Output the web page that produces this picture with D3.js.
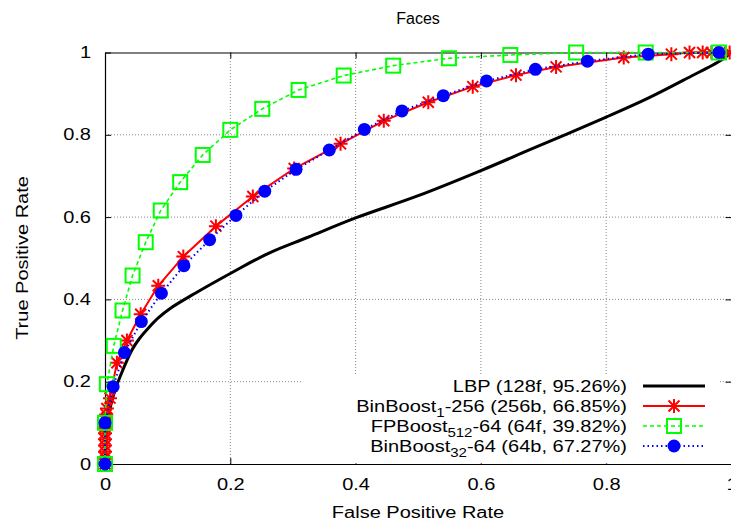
<!DOCTYPE html>
<html>
<head>
<meta charset="utf-8">
<script src="https://cdn.jsdelivr.net/npm/d3@7"></script>
<style>
  body { margin: 0; background: #fff; }
  text { font-family: "Liberation Sans", Arial, sans-serif; fill: #000; }
</style>
</head>
<body>
<div id="chart"></div>
<script>
// values (false positive rate, true positive rate)
const lbpFpr = [0, 0.002, 0.005, 0.008, 0.015, 0.024, 0.043, 0.055, 0.069, 0.085, 0.104, 0.144, 0.2, 0.261, 0.324, 0.4, 0.5, 0.6, 0.68, 0.8, 0.867, 0.93, 0.984, 1];
const lbpTpr = [0, 0.06, 0.1, 0.135, 0.175, 0.212, 0.277, 0.305, 0.33, 0.355, 0.378, 0.415, 0.463, 0.512, 0.551, 0.598, 0.652, 0.713, 0.765, 0.843, 0.889, 0.938, 0.982, 1];

const bin1Fpr = [0, 0, 0, 0, 0, 0, 0, 0.001, 0.002, 0.003, 0.008, 0.019, 0.035, 0.057, 0.085, 0.125, 0.177, 0.236, 0.302, 0.376, 0.445, 0.516, 0.587, 0.656, 0.72, 0.828, 0.904, 0.933, 0.954, 0.968, 0.997];
const bin1Tpr = [0, 0.015, 0.03, 0.045, 0.06, 0.075, 0.09, 0.105, 0.12, 0.135, 0.16, 0.246, 0.3, 0.364, 0.433, 0.504, 0.578, 0.65, 0.718, 0.778, 0.834, 0.879, 0.917, 0.945, 0.965, 0.988, 0.996, 1, 1, 1, 1];

const fpFpr = [0, 0, 0.003, 0.014, 0.028, 0.044, 0.065, 0.089, 0.12, 0.156, 0.2, 0.251, 0.309, 0.381, 0.46, 0.549, 0.647, 0.752, 0.863, 0.98];
const fpTpr = [0, 0.1, 0.194, 0.287, 0.373, 0.458, 0.539, 0.616, 0.685, 0.751, 0.812, 0.863, 0.909, 0.944, 0.968, 0.986, 0.994, 1, 1, 1];

const bin32Fpr = [0, 0, 0.013, 0.031, 0.058, 0.09, 0.126, 0.167, 0.209, 0.255, 0.305, 0.358, 0.414, 0.474, 0.54, 0.609, 0.687, 0.77, 0.867, 0.98];
const bin32Tpr = [0, 0.1, 0.188, 0.271, 0.346, 0.415, 0.482, 0.545, 0.604, 0.663, 0.716, 0.763, 0.813, 0.858, 0.895, 0.931, 0.959, 0.979, 0.996, 1];

const tickVals = [0, 0.2, 0.4, 0.6, 0.8, 1];
const gridVals = [0.2, 0.4, 0.6, 0.8];

const legendBase = ["LBP (128f, 95.26%)", "BinBoost", "FPBoost", "BinBoost"];
const legendSub = ["", "1", "512", "32"];
const legendRest = ["", "-256 (256b, 66.85%)", "-64 (64f, 39.82%)", "-64 (64b, 67.27%)"];

const W = 731, H = 525;
const SX = 1.25; // the reference font is drawn wider than normal

const x = d3.scaleLinear().domain([0, 1]).range([105, 731.5]);
const y = d3.scaleLinear().domain([0, 1]).range([464, 52.5]);

const svg = d3.select("#chart").append("svg")
    .attr("width", W)
    .attr("height", H);

// grid
const grid = svg.append("g")
    .attr("stroke", "#888")
    .attr("stroke-width", 1)
    .attr("stroke-dasharray", "1,2");
grid.selectAll(".gx").data(gridVals).enter().append("line")
    .attr("x1", d => x(d)).attr("x2", d => x(d))
    .attr("y1", y(0)).attr("y2", y(1));
grid.selectAll(".gy").data(gridVals).enter().append("line")
    .attr("x1", x(0)).attr("x2", x(1))
    .attr("y1", d => y(d)).attr("y2", d => y(d));

// axes, ticks inward
const fmt = d3.format("~g");
const xAxis = svg.append("g")
    .attr("transform", `translate(0,${y(0)})`)
    .call(d3.axisBottom(x).tickValues(tickVals).tickFormat(fmt).tickSize(-6).tickSizeOuter(0).tickPadding(20));
const yAxis = svg.append("g")
    .attr("transform", `translate(${x(0)},0)`)
    .call(d3.axisLeft(y).tickValues(tickVals).tickFormat(fmt).tickSize(-6).tickSizeOuter(0).tickPadding(14));
svg.append("g")
    .attr("transform", `translate(0,${y(1)})`)
    .call(d3.axisTop(x).tickValues(tickVals).tickFormat("").tickSize(-6).tickSizeOuter(0));
svg.append("g")
    .attr("transform", `translate(${x(1)},0)`)
    .call(d3.axisRight(y).tickValues(tickVals).tickFormat("").tickSize(-6).tickSizeOuter(0));

svg.selectAll(".domain").attr("stroke", "#000").attr("stroke-width", 1.2);
svg.selectAll(".tick line").attr("stroke", "#000");

xAxis.selectAll("text")
    .attr("font-size", 16)
    .attr("y", 26)
    .attr("dy", 0)
    .attr("transform", `scale(${SX},1)`);
yAxis.selectAll("text")
    .attr("font-size", 16)
    .attr("x", -14 / SX)
    .attr("transform", `scale(${SX},1)`);

// titles
function label(tx, txt, size) {
    return svg.append("g").attr("transform", tx)
        .append("text")
        .attr("text-anchor", "middle")
        .attr("dy", "0.35em")
        .attr("font-size", size)
        .text(txt);
}
label(`translate(418,18)`, "Faces", 16);
label(`translate(418,512) scale(${SX},1)`, "False Positive Rate", 16);
label(`translate(22,258) rotate(-90) scale(${SX},1)`, "True Positive Rate", 16);

// markers
function asterisk(g, cx, cy) {
    g.append("path")
        .attr("d", `M${cx - 7},${cy}H${cx + 7}M${cx},${cy - 7}V${cy + 7}M${cx - 5.5},${cy - 5.5}L${cx + 5.5},${cy + 5.5}M${cx - 5.5},${cy + 5.5}L${cx + 5.5},${cy - 5.5}`)
        .attr("stroke", "#ff0000").attr("stroke-width", 2).attr("fill", "none");
}
function square(g, cx, cy) {
    g.append("rect")
        .attr("x", cx - 7).attr("y", cy - 7).attr("width", 14).attr("height", 14)
        .attr("stroke", "#00ff00").attr("stroke-width", 2).attr("fill", "none");
}
function dot(g, cx, cy) {
    g.append("circle")
        .attr("cx", cx).attr("cy", cy).attr("r", 6.5)
        .attr("fill", "#0000ff");
}

const series = [
    { fpr: lbpFpr, tpr: lbpTpr, color: "#000", width: 3, dash: null, mark: null, curve: d3.curveCatmullRom.alpha(0.5) },
    { fpr: bin1Fpr, tpr: bin1Tpr, color: "#ff0000", width: 2, dash: null, mark: asterisk, curve: d3.curveLinear },
    { fpr: fpFpr, tpr: fpTpr, color: "#00ff00", width: 1.6, dash: "4,3", mark: square, curve: d3.curveLinear },
    { fpr: bin32Fpr, tpr: bin32Tpr, color: "#0000ff", width: 2, dash: "1.5,3", mark: dot, curve: d3.curveLinear }
];

const plot = svg.append("g");
series.forEach(s => {
    const pts = s.fpr.map((f, i) => [f, s.tpr[i]]);
    const line = d3.line().x(d => x(d[0])).y(d => y(d[1])).curve(s.curve);
    const g = plot.append("g");
    g.append("path")
        .attr("d", line(pts))
        .attr("fill", "none")
        .attr("stroke", s.color)
        .attr("stroke-width", s.width)
        .attr("stroke-dasharray", s.dash)
        .attr("stroke-linejoin", "round");
    if (s.mark) pts.forEach(p => s.mark(g, x(p[0]), y(p[1])));
});

// legend (opaque box)
const legend = svg.append("g");
legend.append("rect")
    .attr("x", 303).attr("y", 376)
    .attr("width", 415).attr("height", y(0) - 376 - 0.6)
    .attr("fill", "#fff");
legendBase.forEach((b, i) => {
    const ly = 386 + i * 20;
    const t = legend.append("g")
        .attr("transform", `translate(627,${ly}) scale(${SX},1)`)
        .append("text")
        .attr("text-anchor", "end")
        .attr("dy", "0.35em")
        .attr("font-size", 16);
    t.append("tspan").text(b);
    if (legendSub[i]) {
        t.append("tspan").attr("font-size", 12).attr("dy", 5).text(legendSub[i]);
        t.append("tspan").attr("dy", -5).text(legendRest[i]);
    }
    const s = series[i];
    legend.append("line")
        .attr("x1", 643).attr("x2", 705)
        .attr("y1", ly).attr("y2", ly)
        .attr("stroke", s.color)
        .attr("stroke-width", s.width)
        .attr("stroke-dasharray", s.dash);
    if (s.mark) s.mark(legend, 674, ly);
});
</script>
</body>
</html>
